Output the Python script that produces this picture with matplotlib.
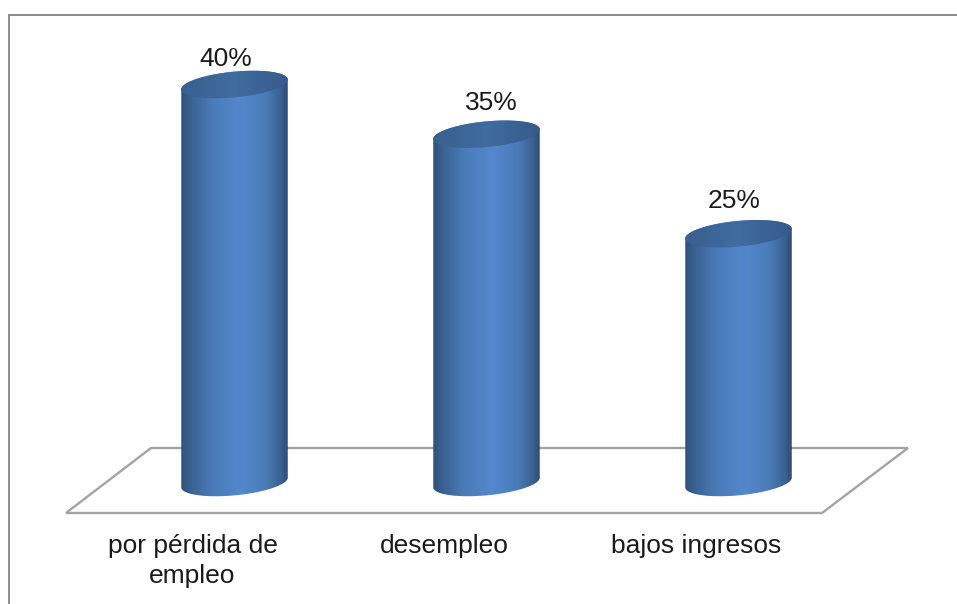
import numpy as np
import matplotlib
matplotlib.use("Agg")
import matplotlib.pyplot as plt
from matplotlib.colors import LinearSegmentedColormap
from matplotlib.patches import Polygon

categories = ["por pérdida de\nempleo", "desempleo", "bajos ingresos"]
values = [40, 35, 25]
labels = ["40%", "35%", "25%"]

W, H = 957, 604
PX_X = 252.0      # pixels per category
PX_Y = 9.95       # pixels per percent
X0, Y0 = 234.5, 482.5
HW, HH, TILT = 53.5, 12.8, np.deg2rad(5.5)

plt.rcParams["font.family"] = ["Liberation Sans", "DejaVu Sans"]
fig = plt.figure(figsize=(W / 100, H / 100), dpi=100, facecolor="white")
ax = fig.add_axes([0, 0, 1, 1])
ax.axis("off")


def set_limits():
    ax.set_xlim(-X0 / PX_X, (W - X0) / PX_X)
    ax.set_ylim((Y0 - H) / PX_Y, Y0 / PX_Y)


def px(x, y):
    """Figure pixel (y downward) to data coordinates."""
    return (x - X0) / PX_X, (Y0 - y) / PX_Y


def ell(cx, val, t):
    """Points of a tilted ellipse centred on category cx, value val."""
    dx = HW * np.cos(t) * np.cos(TILT) - HH * np.sin(t) * np.sin(TILT)
    dy = HW * np.cos(t) * np.sin(TILT) + HH * np.sin(t) * np.cos(TILT)
    return np.column_stack([cx + dx / PX_X, val + dy / PX_Y])


set_limits()

# chart frame (open at right and bottom)
frame = np.array([px(9, H), px(9, 15), px(W, 15)])
ax.plot(frame[:, 0], frame[:, 1], color="#8c8c8c", lw=1.4, solid_joinstyle="miter")

# floor
floor = np.array([px(66, 513), px(151, 448), px(908, 448), px(822, 513)])
ax.add_patch(Polygon(floor, closed=True, fill=False, edgecolor="#a3a3a3", lw=1.7, zorder=1))

body_cm = LinearSegmentedColormap.from_list(
    "body",
    [(0, "#2f5078"), (0.12, "#3b6497"), (0.3, "#4b7cb9"), (0.55, "#5488cd"),
     (0.78, "#4a7bb7"), (0.92, "#3a6190"), (1, "#2b476b")],
)
top_cm = LinearSegmentedColormap.from_list(
    "top", [(0, "#38608f"), (0.5, "#406c9f"), (1, "#37598a")]
)
grad = np.linspace(0, 1, 256).reshape(1, -1)
half = HW / PX_X * 1.02

for i, v in enumerate(values):
    base_low = ell(i, 0, np.linspace(np.pi, 2 * np.pi, 100))
    top_up = ell(i, v, np.linspace(0, np.pi, 100))
    body = Polygon(np.vstack([base_low, top_up]), closed=True,
                   facecolor="none", edgecolor="none")
    ax.add_patch(body)
    im = ax.imshow(grad, cmap=body_cm, aspect="auto", zorder=2,
                   extent=(i - half, i + half, -3, v + 3))
    im.set_clip_path(body)

    top = Polygon(ell(i, v, np.linspace(0, 2 * np.pi, 200)), closed=True,
                  facecolor="none", edgecolor="none")
    ax.add_patch(top)
    im2 = ax.imshow(grad, cmap=top_cm, aspect="auto", zorder=3,
                    extent=(i - half, i + half, v - 3, v + 3))
    im2.set_clip_path(top)

set_limits()  # imshow changes the limits

# value labels
label_dx = [-9, 5, -4]
label_dy = [25, 31, 33]
for i, (v, s) in enumerate(zip(values, labels)):
    ax.annotate(s, (i, v), xytext=(label_dx[i], label_dy[i]), textcoords="offset pixels",
                ha="center", va="center", fontsize=19, color="#1a1a1a", zorder=5)

# category labels
for i, c in enumerate(categories):
    x, y = px(X0 + i * PX_X - 42, 534)
    ax.text(x, y, c, ha="center", va="top", fontsize=19, color="#1a1a1a",
            linespacing=1.32, zorder=5)

fig.savefig("out.png", dpi=100, facecolor="white")
